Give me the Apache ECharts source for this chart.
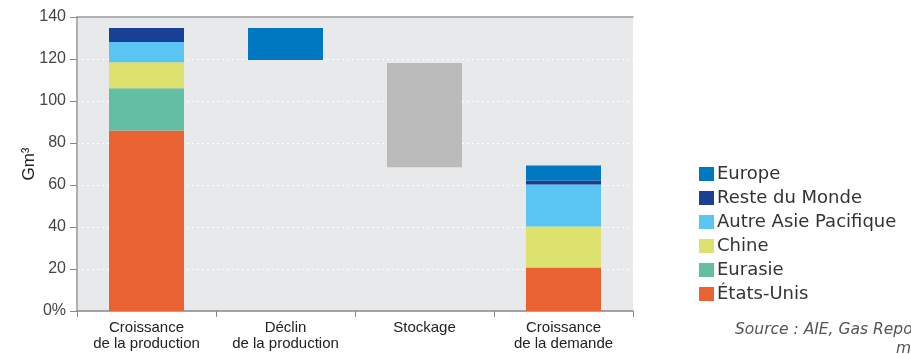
<!DOCTYPE html>
<html><head><meta charset="utf-8">
<script src="https://cdn.jsdelivr.net/npm/echarts@6/dist/echarts.min.js"></script>
<style>html,body{margin:0;padding:0;background:#fff}#c{width:911px;height:354px}</style>
</head><body><div id="c"></div>
<script>
const categories = ['Croissance\nde la production', 'Déclin\nde la production', 'Stockage', 'Croissance\nde la demande'];
const yTicks = [0, 20, 40, 60, 80, 100, 120, 140];
const base       = [0, 119.5, 68.5, 0];
const etatsUnis  = [86.0, 0, 0, 20.7];
const eurasie    = [20.1, 0, 0, 0];
const chine      = [12.4, 0, 0, 19.5];
const autreAsie  = [9.6, 0, 0, 20.0];
const resteMonde = [6.7, 0, 0, 1.9];
const europe     = [0, 15.3, 0, 7.2];
const stockage   = [0, 0, 49.6, 0];

const condensed = '"Liberation Sans Narrow", "Liberation Sans", sans-serif';
const wide = '"DejaVu Sans", sans-serif';
const chart = echarts.init(document.getElementById('c'));
function s(name, data, color) {
  return {name, type: 'bar', stack: 'tot', data, barWidth: 75, itemStyle: {color}, emphasis: {disabled: true}};
}
chart.setOption({
  animation: false,
  grid: {left: 77, right: 278, top: 17, bottom: 43, show: true, backgroundColor: '#e8e9eb', borderWidth: 0},
  legend: {
    orient: 'vertical', left: 694, top: 160, itemWidth: 15, itemHeight: 14, itemGap: 6,
    icon: 'rect',
    data: ['Europe', 'Reste du Monde', 'Autre Asie Pacifique', 'Chine', 'Eurasie', 'États-Unis'],
    textStyle: {fontFamily: wide, fontSize: 18, color: '#333', padding: [0, 0, 0, -2]}
  },
  xAxis: [{
    type: 'category', data: categories,
    axisLine: {lineStyle: {color: '#888', width: 1.5}},
    axisTick: {show: true, length: 6, lineStyle: {color: '#888'}},
    axisLabel: {interval: 0, fontFamily: condensed, fontSize: 15, color: '#222', lineHeight: 16, margin: 9}
  }, {
    type: 'category', position: 'top', data: categories,
    axisLine: {lineStyle: {color: '#999', width: 1.5}}, axisTick: {show: false}, axisLabel: {show: false}
  }],
  yAxis: {
    type: 'value', min: 0, max: 140, interval: 20,
    name: 'Gm³', nameLocation: 'middle', nameGap: 39, nameMoveOverlap: false,
    nameTextStyle: {fontFamily: condensed, fontSize: 17, color: '#222'},
    axisLine: {show: true, lineStyle: {color: '#999', width: 1.5}},
    axisTick: {show: true, length: 7, lineStyle: {color: '#888'}},
    axisLabel: {fontFamily: condensed, fontSize: 16, color: '#444', margin: 11,
      formatter: v => yTicks.includes(v) ? (v === 0 ? '0%' : String(v)) : ''},
    splitLine: {show: true, lineStyle: {color: '#ffffff', type: [2, 3], width: 1.2}}
  },
  series: [
    {name: 'base', type: 'bar', stack: 'tot', data: base, barWidth: 75, itemStyle: {color: 'transparent'}, emphasis: {disabled: true}},
    s('États-Unis', etatsUnis, '#e96232'),
    s('Eurasie', eurasie, '#63bea4'),
    s('Chine', chine, '#dde16e'),
    s('Autre Asie Pacifique', autreAsie, '#5ac5f2'),
    s('Reste du Monde', resteMonde, '#1a4096'),
    s('Europe', europe, '#0078c1'),
    s('Stockage', stockage, '#bbbbbb')
  ],
  graphic: [
    {type: 'text', left: 735, top: 322, style: {text: 'Source : AIE, Gas Report moyen terme', font: 'oblique 15.5px "DejaVu Sans", sans-serif', fill: '#555'}},
    {type: 'text', left: 896, top: 341, style: {text: 'mise à jour', font: 'oblique 15.5px "DejaVu Sans", sans-serif', fill: '#555'}}
  ]
});
</script></body></html>
